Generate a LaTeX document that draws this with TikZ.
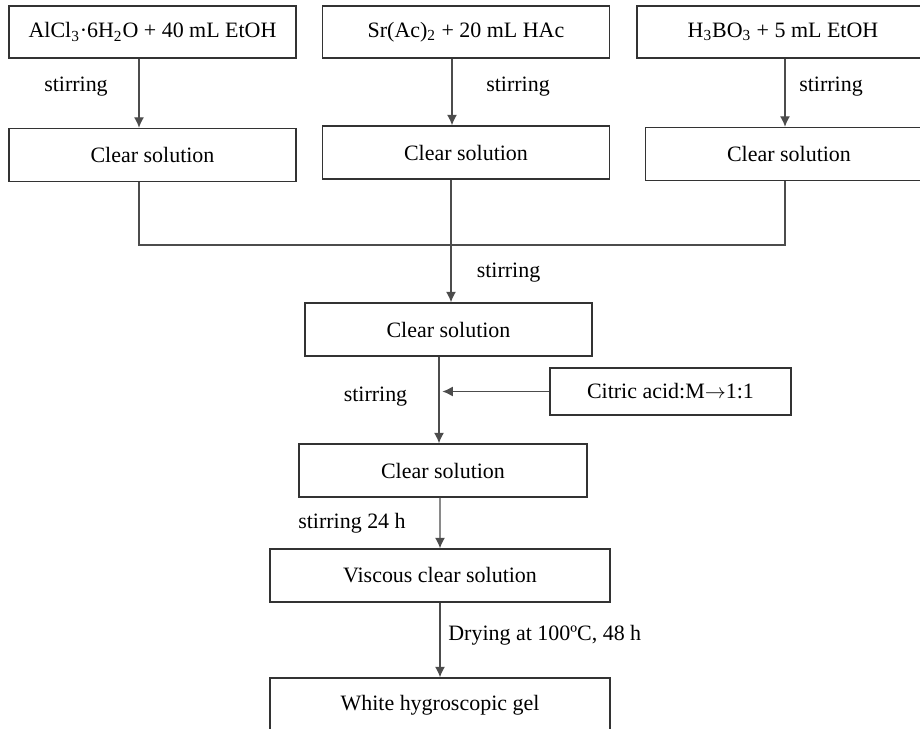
\documentclass[tikz,border=0pt]{standalone}
\usepackage{fontspec}
\setmainfont{Liberation Serif}
\usetikzlibrary{arrows.meta}

\begin{document}
\begin{tikzpicture}[
		x=0.02cm, y=-0.02cm,
		font=\fontsize{12.5}{15}\selectfont,
		box/.style={
			rectangle,
			draw=black!80,
			line width=0.8pt,
			minimum width=5.74cm,
			minimum height=1.06cm,
			align=center,
			inner sep=4pt
		},
		arrow/.style={
			-{Latex[length=2.1mm, width=2mm]},
			draw=black!70,
			line width=0.75pt
		},
		line/.style={
			draw=black!70,
			line width=0.75pt
		},
		lbl/.style={
			inner sep=0pt
		}
		]
		\clip (0,0) rectangle (920,729);
		
		% first line
		\node[box, minimum height=1.04cm] (alcl) at (152.5,32) {AlCl\textsubscript{3}·6H\textsubscript{2}O + 40 mL EtOH};
		\node[box, minimum height=1.04cm] (srac) at (466,32) {Sr(Ac)\textsubscript{2} + 20 mL HAc};
		\node[box, minimum height=1.04cm, minimum width=5.84cm] (hbo) at (783,32) {H\textsubscript{3}BO\textsubscript{3} + 5 mL EtOH};
		
		% second line
		\node[box] (solA) at (152.5,155) {Clear solution};
		\node[box] (solB) at (466,152.5) {Clear solution};
		\node[box] (solC) at (789,154) {Clear solution};
		
		\node[lbl] (stirA) at (76,87) {stirring};
		\node[lbl] (stirB) at (518,87) {stirring};
		\node[lbl] (stirC) at (831,87) {stirring};
		
		% merge
		\coordinate (mA) at (139,245);
		\coordinate (mC) at (785,245);
		\coordinate (mB) at (451,245);
		\node[box] (solD) at (448.5,329.5) {Clear solution};
		\node[lbl] (stirD) at (508.5,273) {stirring};
		
		% citric acid
		\node[box, minimum width=4.82cm, minimum height=0.94cm] (citric) at (670.5,391.5) {Citric acid:M\ensuremath{\rightarrow}1:1};
		\node[lbl] (stirE) at (375.5,397) {stirring};
		\node[box, minimum width=5.76cm] (solE) at (443,470.5) {Clear solution};
		
		\node[lbl] (stirF) at (352,523) {stirring 24 h};
		\node[box, minimum width=6.8cm] (visc) at (440,575.5) {Viscous clear solution};
		
		\node[lbl, anchor=west] (dry) at (448,635) {Drying at 100ºC, 48 h};
		\node[box, minimum width=6.8cm, minimum height=1.08cm] (gel) at (440,705) {White hygroscopic gel};
		%--
		\draw[arrow] ([xshift=-0.27cm]alcl.south) -- ([xshift=-0.27cm]alcl.south |- solA.north);
		\draw[arrow] ([xshift=-0.28cm]srac.south) -- ([xshift=-0.28cm]srac.south |- solB.north);
		\draw[arrow] ([xshift=0.04cm]hbo.south) -- ([xshift=0.04cm]hbo.south |- solC.north);
		%--
		\draw[line] (mA |- solA.south) -- (mA) -- (mC) -- (mC |- solC.south);
		\draw[line] (mB |- solB.south) -- (mB);
		\draw[arrow] (mB) -- (mB |- solD.north);
		%--
		\draw[arrow] ([xshift=-0.19cm]solD.south) -- ([xshift=-0.19cm]solD.south |- solE.north);
		\draw[arrow] (citric.west) -- ++(-2.14cm,0);
		\draw[arrow] ([xshift=-0.06cm]solE.south) -- (visc.north);
		\draw[arrow] (visc) -- (gel);
		
	\end{tikzpicture}
\end{document}
